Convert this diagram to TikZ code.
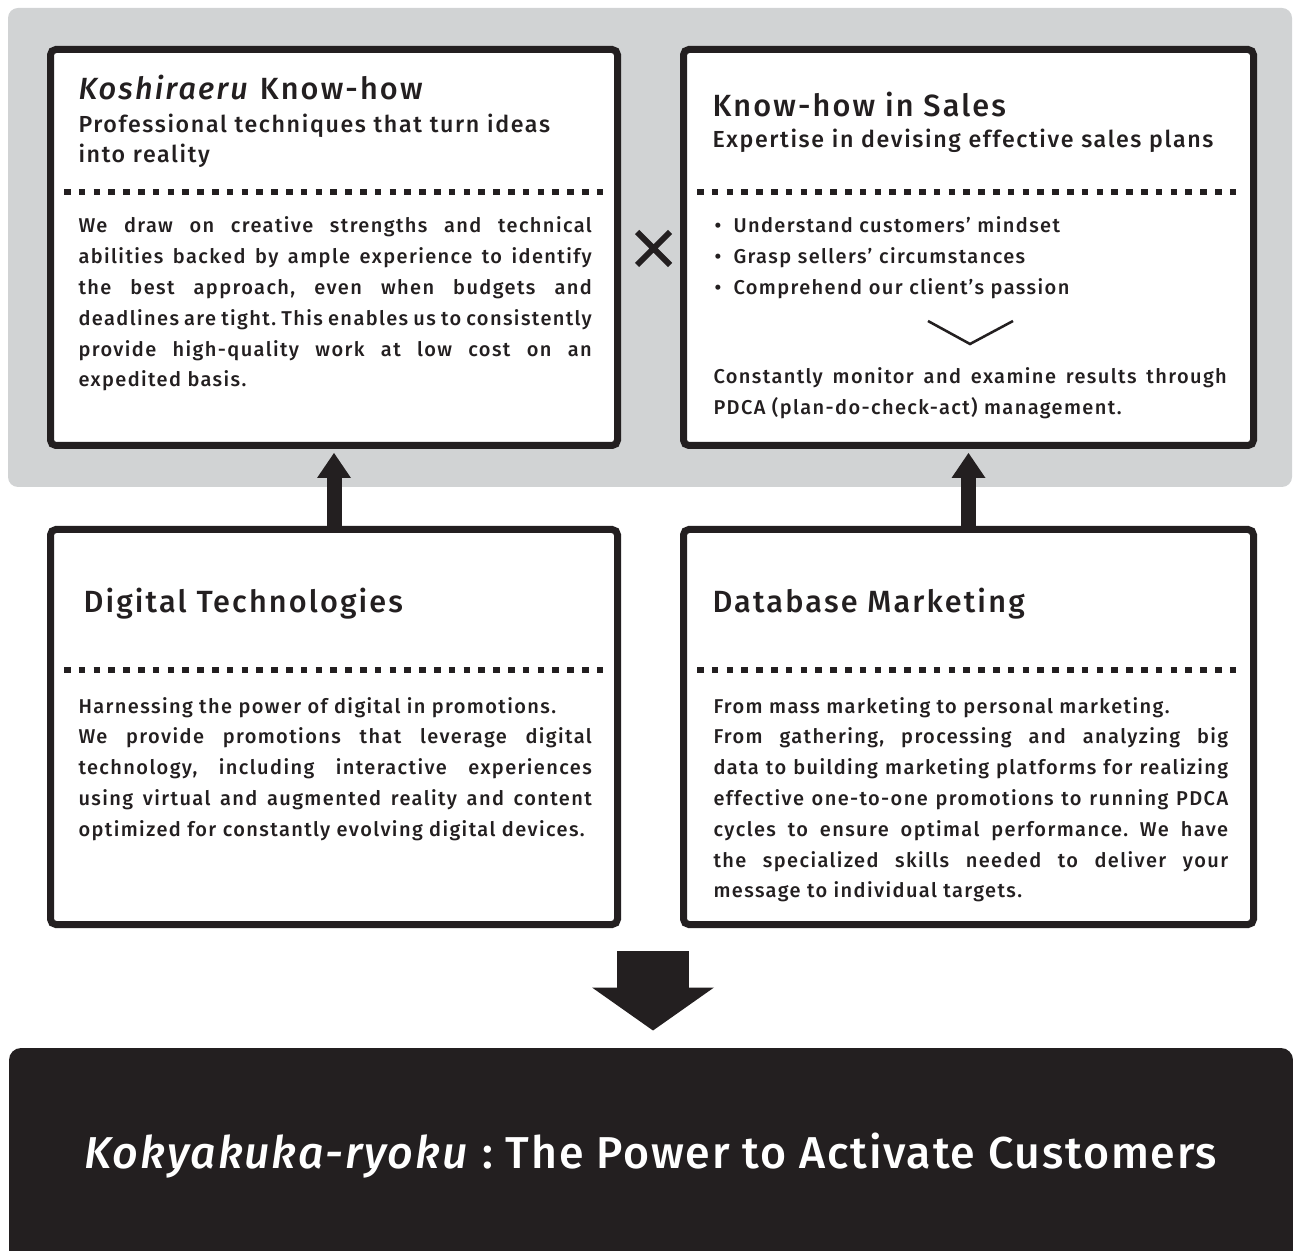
\documentclass[tikz,border=0pt]{standalone}
\usepackage{fontspec}
\setmainfont{Fira Sans Medium}[ItalicFont={Fira Sans Medium Italic}, LetterSpace=7]
\usetikzlibrary{arrows.meta}
\frenchspacing

\definecolor{panelgray}{HTML}{D1D3D4}
\definecolor{inkblack}{HTML}{231F20}

\tikzset{every picture/.style={line width=0.75pt}}
\tikzset{
  card/.style={draw=inkblack, fill=white, line width=5.25pt, rounded corners=4pt, inner sep=0pt},
  cardtitle/.style={anchor=base west, inner sep=0pt, text=inkblack, font=\fontsize{23}{28}\selectfont},
  cardsub/.style={anchor=base west, inner sep=0pt, text width=420pt, align=left, text=inkblack, font=\fontsize{17.4}{22.5}\selectfont},
  cardbody/.style={anchor=base west, inner sep=0pt, text width=385pt, align=justify, text=inkblack, font=\fontsize{15}{23.1}\selectfont},
  dotrule/.style={draw=inkblack, line width=4.9pt, dash pattern=on 4.9pt off 6.2pt},
  bigarrow/.style={draw=inkblack, line width=11.25pt, -{Triangle[width=25.5pt, length=18.75pt, line width=0pt 0]}},
}
\newcommand{\salesdot}{\makebox[14.25pt][l]{•}}

\begin{document}
\begin{tikzpicture}[x=0.75pt,y=0.75pt,yscale=-1]
\useasboundingbox (0,0) rectangle (1293,1251);

%Shape: Rounded Rectangle [grey panel]
\fill [panelgray, rounded corners=7.5pt] (8,8) rectangle (1292,487);

%Shape: Rectangle [cards]
\node (koshi) [card, minimum width=425.25pt, minimum height=297pt] at (334,247.5) {};
\node (sales) [card, minimum width=427.5pt, minimum height=297pt] at (968.5,247.5) {};
\node (digital) [card, minimum width=425.25pt, minimum height=296.25pt] at (334,727) {};
\node (dbm) [card, minimum width=427.5pt, minimum height=296.25pt] at (968.5,727) {};

%Shape: Rectangle [result bar]
\node (result) [fill=inkblack, rounded corners=9pt, minimum width=963pt, minimum height=166.5pt, text=white, font=\fontsize{33.5}{40}\selectfont\addfontfeature{LetterSpace=4}, text height=13.5pt, text depth=0pt] at (651,1159) {\textit{Kokyakuka-ryoku} : The Power to Activate Customers};

%Straight Lines [cross]
\draw [inkblack, line width=4.5pt] (637,232) -- (670,265) (637,265) -- (670,232);
%Straight Lines [chevron]
\draw [inkblack, line width=1.9pt] (928,321) -- (970,344) -- (1013,321);

%Straight Lines [arrows]
\draw [bigarrow, shorten >=3pt] (digital.north) -- (koshi.south);
\draw [bigarrow, shorten >=3pt] (dbm.north) -- (sales.south);
\coordinate (dntop) at (653,951);
\draw [draw=inkblack, line width=54pt, -{Triangle[width=91.5pt, length=32.25pt, line width=0pt 0]}, shorten >=12.75pt] (dntop) -- (dntop |- result.north);

%Straight Lines [dotted rules]
\draw [dotrule] (64,192) -- (603.3,192);
\draw [dotrule] (697,192) -- (1236.3,192);
\draw [dotrule] (64,670) -- (603.3,670);
\draw [dotrule] (697,670) -- (1236.3,670);

% Text Node
\node (koshititle) [cardtitle] at (78,100) {\textit{Koshiraeru} Know-how};
% Text Node
\node (koshisub) [cardsub] at (78,133) {Professional techniques that turn ideas\\into reality};
% Text Node
\node (koshibody) [cardbody] at (78,233) {We draw on creative strengths and technical\linebreak abilities backed by ample experience to identify\linebreak the best approach, even when budgets and\linebreak deadlines are tight. This enables us to consistently\linebreak provide high-quality work at low cost on an\linebreak expedited basis.};
% Text Node
\node (salestitle) [cardtitle] at (712,117) {Know-how in Sales};
% Text Node
\node (salessub) [cardsub] at (712,148) {Expertise in devising effective sales plans};
% Text Node
\node (salesbullets) [cardbody, align=left] at (714,233) {\salesdot Understand customers’ mindset\\\salesdot Grasp sellers’ circumstances\\\salesdot Comprehend our client’s passion};
% Text Node
\node (salesnote) [cardbody] at (713,384) {Constantly monitor and examine results through\linebreak PDCA (plan-do-check-act) management.};
% Text Node
\node (digitaltitle) [cardtitle] at (83,613) {Digital Technologies};
% Text Node
\node (digitalbody) [cardbody] at (78,713) {Harnessing the power of digital in promotions.\\We provide promotions that leverage digital\linebreak technology, including interactive experiences\linebreak using virtual and augmented reality and content\linebreak optimized for constantly evolving digital devices.};
% Text Node
\node (dbmtitle) [cardtitle] at (712,613) {Database Marketing};
% Text Node
\node (dbmbody) [cardbody, text width=386pt] at (713,713) {From mass marketing to personal marketing.\\From gathering, processing and analyzing big\linebreak data to building marketing platforms for realizing\linebreak effective one-to-one promotions to running PDCA\linebreak cycles to ensure optimal performance. We have\linebreak the specialized skills needed to deliver your\linebreak message to individual targets.};

\end{tikzpicture}
\end{document}
